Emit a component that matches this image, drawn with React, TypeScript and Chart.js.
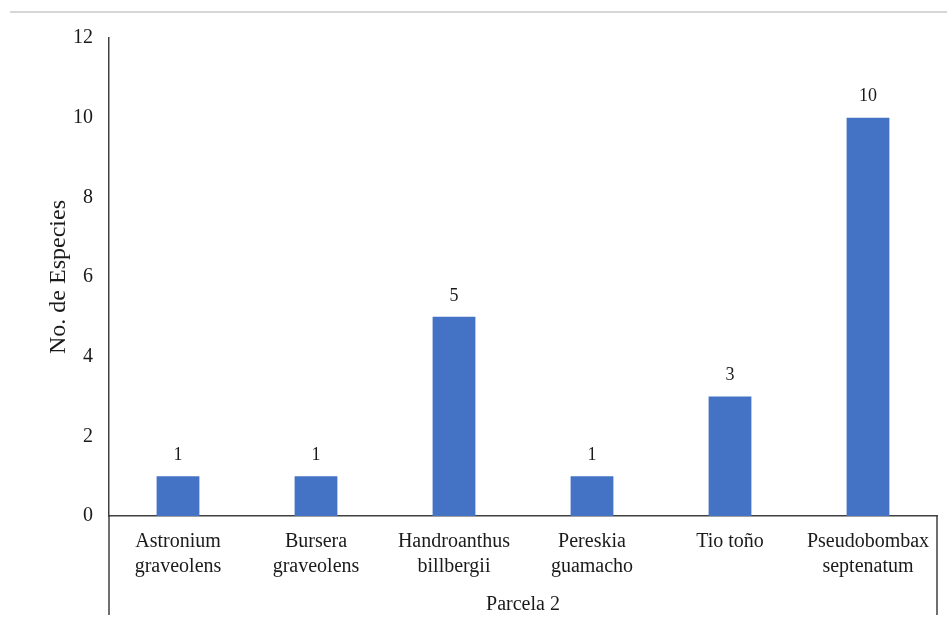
import React, { useEffect, useRef } from "react";
import { Chart, registerables } from "chart.js";

Chart.register(...registerables);

const categories: string[][] = [
  ["Astronium", "graveolens"],
  ["Bursera", "graveolens"],
  ["Handroanthus", "billbergii"],
  ["Pereskia", "guamacho"],
  ["Tio toño"],
  ["Pseudobombax", "septenatum"],
];
const especies: number[] = [1, 1, 5, 1, 3, 10];
const yTicks = { min: 0, max: 12, step: 2 };
const groupLabel = "Parcela 2";
const yTitle = "No. de Especies";

const SERIF = '"Liberation Serif", "Times New Roman", serif';
const INK = "#1a1a1a";
const AXIS = "#404040";
const BAR = "#4472C4";

// Value labels above each bar
const valueLabels = {
  id: "valueLabels",
  afterDatasetsDraw(chart: any) {
    const { ctx } = chart;
    const meta = chart.getDatasetMeta(0);
    const data = chart.data.datasets[0].data as number[];
    ctx.save();
    ctx.font = `18px ${SERIF}`;
    ctx.fillStyle = INK;
    ctx.textAlign = "center";
    ctx.textBaseline = "middle";
    meta.data.forEach((bar: any, i: number) => {
      ctx.fillText(String(data[i]), bar.x, bar.y - 21);
    });
    ctx.restore();
  },
};

// Top rule and the group bracket under the category axis
const frame = {
  id: "frame",
  afterDraw(chart: any) {
    const { ctx, chartArea, width, height } = chart;
    ctx.save();
    ctx.strokeStyle = "#c8c8c8";
    ctx.lineWidth = 1.5;
    ctx.beginPath();
    ctx.moveTo(10, 12);
    ctx.lineTo(width, 12);
    ctx.stroke();

    ctx.strokeStyle = AXIS;
    ctx.lineWidth = 1.5;
    ctx.beginPath();
    ctx.moveTo(chartArea.left, chartArea.bottom);
    ctx.lineTo(chartArea.left, height - 7);
    ctx.moveTo(chartArea.right, chartArea.bottom);
    ctx.lineTo(chartArea.right, height - 7);
    ctx.stroke();
    ctx.restore();
  },
};

export default function App() {
  const canvasRef = useRef<HTMLCanvasElement | null>(null);

  useEffect(() => {
    if (!canvasRef.current) return;
    const chart = new Chart(canvasRef.current, {
      type: "bar",
      data: {
        labels: categories,
        datasets: [
          {
            label: yTitle,
            data: especies,
            backgroundColor: BAR,
            borderWidth: 0,
            categoryPercentage: 1,
            barPercentage: 0.31,
          },
        ],
      },
      options: {
        animation: false,
        responsive: false,
        devicePixelRatio: 1,
        layout: { padding: { left: 0, right: 10, top: 38, bottom: 0 } },
        plugins: {
          legend: { display: false },
          tooltip: { enabled: false },
        },
        scales: {
          x: {
            grid: { display: false, drawTicks: false },
            border: { display: true, color: AXIS, width: 1.5 },
            ticks: {
              color: INK,
              font: { family: SERIF, size: 20, lineHeight: 1.25 },
              padding: 13,
              maxRotation: 0,
              autoSkip: false,
            },
            title: {
              display: true,
              text: groupLabel,
              color: INK,
              font: { family: SERIF, size: 20, lineHeight: 1.2 },
              padding: { top: 0, bottom: 5 },
            },
            afterFit(scale: any) {
              scale.height = 106;
            },
          },
          y: {
            min: yTicks.min,
            max: yTicks.max,
            grid: { display: false, drawTicks: false },
            border: { display: true, color: AXIS, width: 1.5 },
            ticks: {
              stepSize: yTicks.step,
              color: INK,
              font: { family: SERIF, size: 20 },
              padding: 16,
            },
            title: {
              display: true,
              text: yTitle,
              color: INK,
              font: { family: SERIF, size: 24, lineHeight: 1.2 },
              padding: { top: 44, bottom: 0 },
            },
            afterFit(scale: any) {
              scale.width = 109;
            },
          },
        },
      },
      plugins: [valueLabels, frame],
    });
    return () => chart.destroy();
  }, []);

  return (
    <div
      style={{
        position: "absolute",
        left: 0,
        top: 0,
        width: 947,
        height: 622,
        background: "#ffffff",
      }}
    >
      <canvas
        ref={canvasRef}
        width={947}
        height={622}
        style={{ width: 947, height: 622, display: "block" }}
      />
    </div>
  );
}
